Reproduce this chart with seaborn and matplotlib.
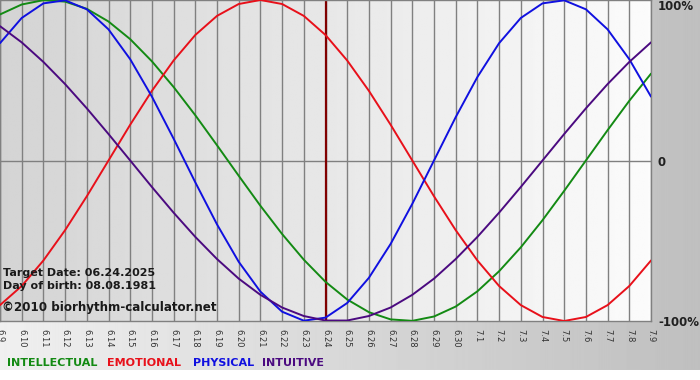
import numpy as np
import pandas as pd
import matplotlib
matplotlib.use("Agg")
import matplotlib.pyplot as plt
import seaborn as sns

# day labels along the x axis (June 9 .. July 9)
day_labels = ["6.9", "6.10", "6.11", "6.12", "6.13", "6.14", "6.15", "6.16",
              "6.17", "6.18", "6.19", "6.20", "6.21", "6.22", "6.23", "6.24",
              "6.25", "6.26", "6.27", "6.28", "6.29", "6.30", "7.1", "7.2",
              "7.3", "7.4", "7.5", "7.6", "7.7", "7.8", "7.9"]

# cycle values (-1 .. 1) read per day
physical = [0.731, 0.888, 0.979, 0.998, 0.942, 0.817, 0.631, 0.398, 0.136, -0.136,
            -0.398, -0.631, -0.817, -0.942, -0.998, -0.979, -0.888, -0.731, -0.520, -0.270,
            0.000, 0.270, 0.520, 0.731, 0.888, 0.979, 0.998, 0.942, 0.817, 0.631, 0.398]
emotional = [-0.901, -0.782, -0.623, -0.434, -0.223, 0.000, 0.223, 0.434, 0.623, 0.782,
             0.901, 0.975, 1.000, 0.975, 0.901, 0.782, 0.623, 0.434, 0.223, 0.000,
             -0.223, -0.434, -0.623, -0.782, -0.901, -0.975, -1.000, -0.975, -0.901, -0.782, -0.623]
intellectual = [0.910, 0.972, 0.999, 0.990, 0.945, 0.866, 0.756, 0.618, 0.458, 0.282,
                0.095, -0.095, -0.282, -0.458, -0.618, -0.756, -0.866, -0.945, -0.990, -0.999,
                -0.972, -0.910, -0.815, -0.690, -0.541, -0.372, -0.189, 0.000, 0.189, 0.372, 0.541]
intuitive = [0.837, 0.736, 0.614, 0.476, 0.325, 0.165, 0.000, -0.165, -0.325, -0.476,
             -0.614, -0.736, -0.837, -0.916, -0.969, -0.997, -0.997, -0.969, -0.916, -0.837,
             -0.736, -0.614, -0.476, -0.325, -0.165, 0.000, 0.165, 0.325, 0.476, 0.614, 0.736]

target_label = "6.24"
y_ticks = [-1, 0, 1]
y_tick_labels = ["-100%", "0", "100%"]

cycle_names = ["INTELLECTUAL", "EMOTIONAL", "PHYSICAL", "INTUITIVE"]
colors = {"INTELLECTUAL": "#138a13", "EMOTIONAL": "#e8101a",
          "PHYSICAL": "#1010e0", "INTUITIVE": "#4b0a80"}

# long-form table for seaborn
series = {"INTELLECTUAL": intellectual, "EMOTIONAL": emotional,
          "PHYSICAL": physical, "INTUITIVE": intuitive}
rows = []
for name in cycle_names:
    for i, v in enumerate(series[name]):
        rows.append({"day": i, "value": v, "cycle": name})
df = pd.DataFrame(rows)

sns.set_style("white")
plt.rcParams["font.family"] = ["DejaVu Sans"]

W, H = 700, 380
fig = plt.figure(figsize=(W / 100, H / 100), dpi=100)

# figure background: grey gradient, white strip at the bottom
bg = fig.add_axes([0, 0, 1, 1], zorder=-10)
grad = np.tile(np.linspace(0.94, 0.75, 400), (H, 1))
grad[370:, :] = 1.0
bg.imshow(grad, cmap="gray", vmin=0, vmax=1, aspect="auto", extent=[0, 1, 0, 1])
bg.axis("off")

# plot area
px_w, px_h = 651, 321
ax = fig.add_axes([0, 1 - px_h / H, px_w / W, px_h / H])
n = len(day_labels)
area = np.tile(np.linspace(0.83, 0.985, 300), (10, 1))
ax.imshow(area, cmap="gray", vmin=0, vmax=1, aspect="auto",
          extent=[0, n - 1, -1, 1], zorder=0)

ax.set_axisbelow(True)
ax.set_xlim(0, n - 1)
ax.set_ylim(-1, 1)
ax.set_xticks(range(n))
ax.set_xticklabels(day_labels, rotation=270, fontsize=6, color="#333333")
ax.tick_params(axis="x", direction="out", length=4, width=1, color="#808080", pad=2)
ax.grid(axis="x", color="#808080", lw=1)
ax.axhline(0, color="#808080", lw=1, zorder=1)
ax.yaxis.tick_right()
ax.set_yticks(y_ticks)
ax.set_yticklabels(y_tick_labels, fontsize=8.5, fontweight="bold", color="#202020")
ax.tick_params(axis="y", length=0, pad=5)
ax.get_yticklabels()[2].set_va("top")
for s in ax.spines.values():
    s.set_color("#808080")
    s.set_linewidth(1)

# marker for the target date
ax.axvline(day_labels.index(target_label), color="#800000", lw=1.6, zorder=2)

sns.lineplot(data=df, x="day", y="value", hue="cycle", hue_order=cycle_names,
             palette=colors, legend=False, lw=1.4, ax=ax, zorder=3)
ax.set_xlabel("")
ax.set_ylabel("")

# info text in the lower left corner
fig.text(3 / W, 1 - 276 / H, "Target Date: 06.24.2025", fontsize=8,
         fontweight="bold", color="#1a1a1a", va="baseline")
fig.text(3 / W, 1 - 289 / H, "Day of birth: 08.08.1981", fontsize=8,
         fontweight="bold", color="#1a1a1a", va="baseline")
fig.text(2 / W, 1 - 311 / H, "\u00a92010 biorhythm-calculator.net", fontsize=8.6,
         fontweight="bold", color="#1a1a1a", va="baseline")

# colored legend words
legend_x = [7, 107, 193, 262]
for name, x in zip(cycle_names, legend_x):
    fig.text(x / W, 1 - 366 / H, name, fontsize=8, fontweight="bold",
             color=colors[name], va="baseline")

fig.savefig("out.png", dpi=100)
